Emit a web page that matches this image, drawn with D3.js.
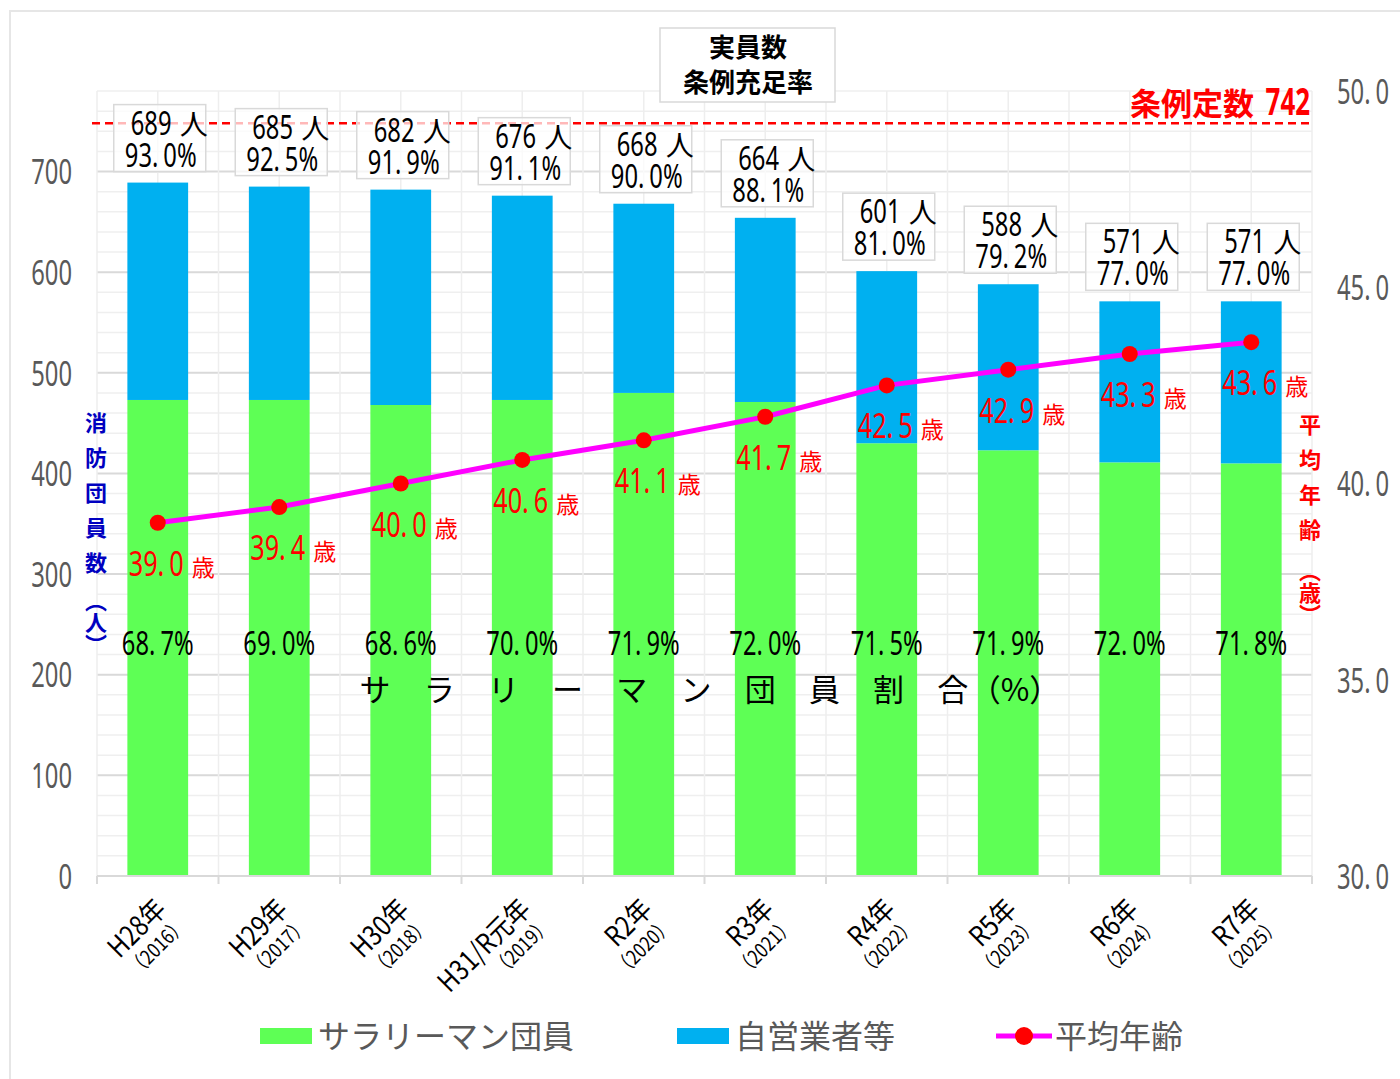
<!DOCTYPE html>
<html lang="ja">
<head>
<meta charset="utf-8">
<script src="https://cdn.jsdelivr.net/npm/d3@7"></script>
<style>
  html, body { margin: 0; padding: 0; background: #fff; }
  svg { display: block; }
  .num { font-family: "Noto Sans", "Roboto", "Noto Sans CJK JP", sans-serif; }
  .jp { font-family: "Noto Sans CJK JP", "Noto Sans", sans-serif; }
</style>
</head>
<body>
<svg id="chart" width="1400" height="1079"></svg>
<script>
// 年度ラベル
const categories = ['H28年', 'H29年', 'H30年', 'H31/R元年', 'R2年', 'R3年', 'R4年', 'R5年', 'R6年', 'R7年'];
const westernYears = ['2016', '2017', '2018', '2019', '2020', '2021', '2022', '2023', '2024', '2025'];

// 団員数（積み上げ）
const salaryman = [473, 473, 468, 473, 480, 471, 430, 423, 411, 410];
const selfEmployed = [216, 212, 214, 203, 188, 183, 171, 165, 160, 161];

// ラベルとして印字されている値
const totalLabels = [689, 685, 682, 676, 668, 664, 601, 588, 571, 571];
const fillRate = [93.0, 92.5, 91.9, 91.1, 90.0, 88.1, 81.0, 79.2, 77.0, 77.0];
const salaryShare = [68.7, 69.0, 68.6, 70.0, 71.9, 72.0, 71.5, 71.9, 72.0, 71.8];

// 平均年齢（右軸）
const avgAge = [39.0, 39.4, 40.0, 40.6, 41.1, 41.7, 42.5, 42.9, 43.3, 43.6];

const leftTicks = [0, 100, 200, 300, 400, 500, 600, 700];
const rightTicks = [30, 35, 40, 45, 50];
const LIMIT = 742;
// 元図の破線は 742 よりやや上（約 748）に引かれている
const LIMIT_LINE_AT = 748;

const GREEN = '#5eff55';
const BLUE = '#00b0f0';
const MAGENTA = '#ff00ff';
const RED = '#ff0000';
const AXIS_GRAY = '#595959';
const SX = 0.72; // 数字は横に縮めて元図の縦長の字形に寄せる

const fmt1 = d3.format('.1f');
const svg = d3.select('#chart');

// 小数点のあとに少し間を空ける（元図は小数点が全角寄りの幅）
function fillSpaced(text, str) {
  const dot = str.indexOf('.');
  if (dot < 0) {
    text.text(str);
    return;
  }
  text.append('tspan').text(str.slice(0, dot + 1));
  text.append('tspan').attr('dx', 7).text(str.slice(dot + 1));
}

// 横に縮めた数字テキスト
function numText(parent, x, y, str, { size = 33, anchor = 'start', fill = '#000', weight = 'normal', sx = SX } = {}) {
  const g = parent.append('g').attr('transform', `translate(${x},${y}) scale(${sx},1)`);
  const t = g.append('text')
    .attr('class', 'num')
    .attr('text-anchor', anchor)
    .attr('font-size', size)
    .attr('font-weight', weight)
    .attr('fill', fill);
  fillSpaced(t, str);
  return g;
}

// 外枠
svg.append('rect')
  .attr('x', 10).attr('y', 11).attr('width', 1400).attr('height', 1080)
  .attr('fill', '#fff').attr('stroke', '#e6e6e6').attr('stroke-width', 2);

const x = d3.scaleBand().domain(categories).range([97, 1312]).paddingInner(0.5).paddingOuter(0.25);
const yL = d3.scaleLinear().domain([0, 780]).range([876, 91]);
const yR = d3.scaleLinear().domain([30, 50]).range([876, 91]);
const step = x.step();
const cx = (i) => x(categories[i]) + x.bandwidth() / 2;

// グリッド
const grid = svg.append('g');
grid.selectAll('line.h')
  .data(d3.range(0, 781, 20))
  .join('line')
  .attr('x1', 97).attr('x2', 1312)
  .attr('y1', (d) => yL(d)).attr('y2', (d) => yL(d))
  .attr('stroke', (d) => (d % 100 === 0 && d > 0 ? '#d9d9d9' : '#efefef'))
  .attr('stroke-width', (d) => (d % 100 === 0 ? 2 : 1.5));
grid.selectAll('line.v')
  .data(d3.range(0, categories.length * 2 + 1))
  .join('line')
  .attr('x1', (i) => 97 + (i * step) / 2).attr('x2', (i) => 97 + (i * step) / 2)
  .attr('y1', yL(780)).attr('y2', yL(0))
  .attr('stroke', '#eeeeee').attr('stroke-width', 1.5);

// 積み上げ棒
const bars = svg.append('g');
bars.selectAll('rect.sal')
  .data(categories)
  .join('rect')
  .attr('x', (d) => x(d)).attr('width', x.bandwidth())
  .attr('y', (d, i) => yL(salaryman[i]))
  .attr('height', (d, i) => yL(0) - yL(salaryman[i]))
  .attr('fill', GREEN);
bars.selectAll('rect.self')
  .data(categories)
  .join('rect')
  .attr('x', (d) => x(d)).attr('width', x.bandwidth())
  .attr('y', (d, i) => yL(salaryman[i] + selfEmployed[i]))
  .attr('height', (d, i) => yL(salaryman[i]) - yL(salaryman[i] + selfEmployed[i]))
  .attr('fill', BLUE);

// X 軸線と目盛
svg.append('line')
  .attr('x1', 97).attr('x2', 1312).attr('y1', yL(0)).attr('y2', yL(0))
  .attr('stroke', '#d9d9d9').attr('stroke-width', 2);
svg.selectAll('line.xtick')
  .data(d3.range(0, categories.length + 1))
  .join('line')
  .attr('x1', (i) => 97 + i * step).attr('x2', (i) => 97 + i * step)
  .attr('y1', yL(0)).attr('y2', yL(0) + 8)
  .attr('stroke', '#d9d9d9').attr('stroke-width', 2);

// 軸の目盛ラベルを縦長の数字に置き換える
function styleTicks(axisG) {
  axisG.select('.domain').remove();
  axisG.selectAll('text').each(function () {
    const t = d3.select(this);
    const s = t.text();
    t.text(null)
      .attr('class', 'num').attr('font-size', 34).attr('fill', AXIS_GRAY)
      .attr('x', 0).attr('dy', '0.36em').attr('transform', 'scale(0.7,1)')
      .style('font-family', null);
    fillSpaced(t, s);
  });
}

// 左軸
const leftAxis = svg.append('g')
  .attr('transform', 'translate(72,0)')
  .call(d3.axisLeft(yL).tickValues(leftTicks).tickSize(0).tickPadding(0));
styleTicks(leftAxis);

// 右軸
const rightAxis = svg.append('g')
  .attr('transform', 'translate(1337,0)')
  .call(d3.axisRight(yR).tickValues(rightTicks).tickFormat(fmt1).tickSize(0).tickPadding(0));
styleTicks(rightAxis);

// 条例定数の破線
svg.append('line')
  .attr('x1', 92).attr('x2', 1312)
  .attr('y1', yL(LIMIT_LINE_AT)).attr('y2', yL(LIMIT_LINE_AT))
  .attr('stroke', RED).attr('stroke-width', 2.5).attr('stroke-dasharray', '8,5');
svg.append('text')
  .attr('class', 'jp')
  .attr('x', 1254).attr('y', 115)
  .attr('text-anchor', 'end')
  .attr('fill', RED).attr('font-size', 31).attr('font-weight', 'bold')
  .text('条例定数');
numText(svg, 1310, 115, String(LIMIT), { size: 37, anchor: 'end', fill: RED, weight: 'bold', sx: 0.7 });

// 実員数・充足率ラベル
const boxW = 92;
const boxH = 67;
const topLabels = svg.append('g');
categories.forEach((c, i) => {
  const bx = cx(i) + 2;
  const top = yL(salaryman[i] + selfEmployed[i]) - 11 - boxH;
  const g = topLabels.append('g');
  g.append('rect')
    .attr('x', bx - boxW / 2).attr('y', top).attr('width', boxW).attr('height', boxH)
    .attr('fill', '#fff').attr('fill-opacity', 0.72)
    .attr('stroke', '#d9d9d9').attr('stroke-width', 1.5);
  numText(g, bx - 29, top + 30, String(totalLabels[i]), { size: 33 });
  g.append('text').attr('class', 'jp')
    .attr('x', bx + 20).attr('y', top + 30)
    .attr('font-size', 28).attr('fill', '#000').text('人');
  numText(g, bx + 1, top + 62, `${fmt1(fillRate[i])}%`, { size: 33, anchor: 'middle' });
});

// サラリーマン割合
const shareLabels = svg.append('g');
salaryShare.forEach((s, i) => {
  numText(shareLabels, cx(i), 655, `${fmt1(s)}%`, { size: 32, anchor: 'middle', sx: 0.74 });
});

// サ ラ リ ー マ ン 団 員 割 合（%）
const spacedChars = ['サ', 'ラ', 'リ', 'ー', 'マ', 'ン', '団', '員', '割', '合', '（%）'];
svg.append('g').selectAll('text')
  .data(spacedChars)
  .join('text')
  .attr('class', 'jp')
  .attr('x', (d, i) => 375 + i * 64.2 - (i === 10 ? 2 : 0))
  .attr('y', 701)
  .attr('text-anchor', 'middle').attr('font-size', 31).attr('fill', '#000')
  .text((d) => d);

// 平均年齢の折れ線
const line = d3.line()
  .x((d, i) => cx(i))
  .y((d) => yR(d));
svg.append('path')
  .datum(avgAge)
  .attr('d', line)
  .attr('fill', 'none').attr('stroke', MAGENTA).attr('stroke-width', 5)
  .attr('stroke-linejoin', 'round');
svg.append('g').selectAll('circle')
  .data(avgAge)
  .join('circle')
  .attr('cx', (d, i) => cx(i))
  .attr('cy', (d) => yR(d))
  .attr('r', 8).attr('fill', RED);

const ageLabels = svg.append('g');
avgAge.forEach((a, i) => {
  const px = cx(i) - 29;
  const py = yR(a) + 53;
  numText(ageLabels, px, py, fmt1(a), { size: 35, fill: RED });
  ageLabels.append('text').attr('class', 'jp')
    .attr('x', px + 63).attr('y', py)
    .attr('font-size', 23).attr('fill', RED).text('歳');
});

// 軸タイトル（縦書き）
function verticalTitle(xPos, yPos, str, color, spacing) {
  svg.append('text').attr('class', 'jp')
    .attr('x', xPos).attr('y', yPos)
    .style('writing-mode', 'vertical-rl')
    .attr('font-size', 22).attr('font-weight', 'bold').attr('fill', color)
    .attr('letter-spacing', spacing)
    .text(str);
}
verticalTitle(96, 412, '消防団員数', '#0000c0', 13);
verticalTitle(96, 590, '（人）', '#0000c0', 0);
verticalTitle(1310, 414, '平均年齢', RED, 13);
verticalTitle(1310, 560, '（歳）', RED, 0);

// 見出しボックス
svg.append('rect')
  .attr('x', 660).attr('y', 28).attr('width', 175).attr('height', 74)
  .attr('fill', '#fff').attr('stroke', '#d9d9d9').attr('stroke-width', 1.5);
svg.append('text').attr('class', 'jp')
  .attr('x', 748).attr('y', 57).attr('text-anchor', 'middle')
  .attr('font-size', 26).attr('font-weight', 'bold').attr('fill', '#000')
  .text('実員数');
svg.append('text').attr('class', 'jp')
  .attr('x', 748).attr('y', 92).attr('text-anchor', 'middle')
  .attr('font-size', 26).attr('font-weight', 'bold').attr('fill', '#000')
  .text('条例充足率');

// X 軸ラベル（45° 回転）
const xLabels = svg.append('g');
categories.forEach((c, i) => {
  const g = xLabels.append('g').attr('transform', `translate(${cx(i) + 10},${911}) rotate(-45)`);
  g.append('text').attr('class', 'jp')
    .attr('x', 0).attr('y', 0).attr('text-anchor', 'end')
    .attr('transform', 'scale(0.86,1)')
    .attr('font-size', 28).attr('fill', '#000').text(c);
  g.append('text').attr('class', 'jp')
    .attr('x', 4).attr('y', 25).attr('text-anchor', 'end')
    .attr('transform', 'scale(0.86,1)')
    .attr('font-size', 20).attr('fill', '#000').text(`（${westernYears[i]}）`);
});

// 凡例
const legend = svg.append('g');
legend.append('rect').attr('x', 260).attr('y', 1028).attr('width', 52).attr('height', 16).attr('fill', GREEN);
legend.append('text').attr('class', 'jp').attr('x', 318).attr('y', 1048)
  .attr('font-size', 32).attr('fill', AXIS_GRAY).text('サラリーマン団員');
legend.append('rect').attr('x', 677).attr('y', 1028).attr('width', 52).attr('height', 16).attr('fill', BLUE);
legend.append('text').attr('class', 'jp').attr('x', 735).attr('y', 1048)
  .attr('font-size', 32).attr('fill', AXIS_GRAY).text('自営業者等');
legend.append('line').attr('x1', 996).attr('x2', 1052).attr('y1', 1036).attr('y2', 1036)
  .attr('stroke', MAGENTA).attr('stroke-width', 5);
legend.append('circle').attr('cx', 1024).attr('cy', 1036).attr('r', 9).attr('fill', RED);
legend.append('text').attr('class', 'jp').attr('x', 1055).attr('y', 1048)
  .attr('font-size', 32).attr('fill', AXIS_GRAY).text('平均年齢');
</script>
</body>
</html>
